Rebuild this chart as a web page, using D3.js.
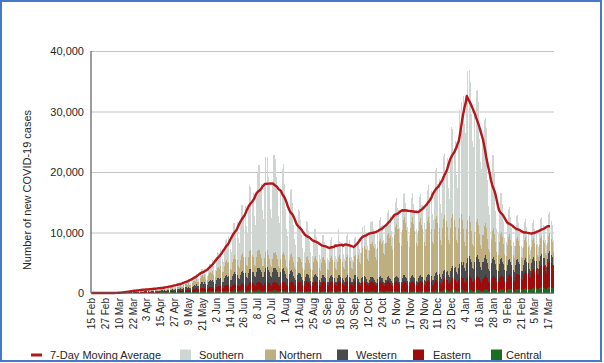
<!DOCTYPE html>
<html>
<head>
<meta charset="utf-8">
<script src="https://cdn.jsdelivr.net/npm/d3@7"></script>
<style>
  body { margin: 0; background: #fff; }
  svg { display: block; font-family: "Liberation Sans", Arial, sans-serif; }
</style>
</head>
<body>
<div id="vis"></div>
<script>
// Daily new cases by region, in hundreds of cases, one row per week (Sat..Fri), first day 15 Feb 2020
var central = [
  0,0,0,0,0,0,0, 0,0,0,0,0,0,0, 0,0,0,0,0,0,0,
  0,0,0,0,0.1,0.1,0.1, 0.1,0.1,0.2,0.2,0.3,0.3,0.2, 0.4,0.3,0.3,0.4,0.5,0.5,0.4,
  0.5,0.4,0.4,0.5,0.6,0.6,0.5, 0.6,0.5,0.4,0.6,0.7,0.8,0.6, 0.8,0.6,0.6,0.8,0.9,1,0.9,
  1,0.8,0.7,1,1.2,1.2,1.1, 1.2,1,0.9,1.2,1.4,1.5,1.2, 1.5,1.2,1.1,1.5,1.7,1.8,1.7,
  1.9,1.5,1.4,1.9,2.2,2.3,2.1, 2.5,2,1.9,2.5,2.9,3,2.7, 3,2.4,2.2,3,3.5,3.6,3.3,
  3,3,2,3,4,4,3, 4,3,3,3,4,4,4, 4,3,3,4,4,5,4,
  4,3,3,4,5,5,4, 4,3,3,4,5,5,4, 4,3,3,4,5,5,4,
  4,3,4,4,5,5,4, 4,3,3,4,5,5,4, 4,3,3,4,5,4,4,
  4,3,2,3,4,4,4, 3,3,3,4,4,4,4, 3,3,2,3,4,4,3,
  3,2,2,3,4,4,3, 3,3,2,3,3,4,3, 3,2,2,3,4,4,3,
  3,2,2,3,4,4,3, 3,3,2,3,3,4,3, 3,2,2,3,4,4,3,
  3,2,2,3,4,4,3, 3,3,2,3,3,4,3, 3,2,2,3,4,4,3,
  3,2,2,3,4,4,3, 3,3,2,3,3,4,3, 3,2,2,3,4,4,3,
  3,2,2,3,4,4,3, 3,3,2,3,3,4,3, 4,3,2,4,4,4,4,
  4,3,3,4,5,5,4, 5,4,3,4,5,6,5, 5,4,3,4,5,6,5,
  5,4,3,4,5,6,5, 5,4,3,4,5,6,5, 5,4,4,4,5,6,5,
  5,4,3,4,5,6,5, 5,4,3,4,5,6,5, 5,4,4,5,6,6,5,
  6,4,4,5,6,7,6, 6,5,4,6,7,7,7, 7,5,5,6,7,8,7,
  7,6,5,7,8,9,7, 8,6,6,8,9,10,9, 9,7,6,8,10,10,9,
  9,7
];
var eastern = [
  0,0,0,0,0,0,0, 0,0,0,0,0,0,0, 0,0,0,0,0,0,0,
  0,0,0,0.1,0.2,0.2,0.2, 0.2,0.2,0.2,0.3,0.4,0.4,0.4, 0.6,0.4,0.4,0.6,0.7,0.8,0.7,
  0.8,0.6,0.6,0.8,0.9,1,0.9, 1,0.8,0.7,1,1.2,1.2,1.1, 1.2,1,0.9,1.2,1.4,1.4,1.3,
  1.5,1.2,1.1,1.5,1.7,1.8,1.7, 2,1.6,1.5,2,2.3,2.4,2.2, 2.7,2.2,2,2.7,3.1,3.2,3,
  3.6,2.9,2.7,3.6,4.1,4.3,4, 5,4,4,5,6,6,5, 6,5,4,6,7,7,7,
  7,6,5,7,8,8,8, 8,6,6,8,9,10,9, 9,7,7,9,10,11,10,
  10,8,8,10,11,12,11, 11,9,8,11,13,13,12, 12,10,9,12,14,14,13,
  12,9,9,12,14,15,13, 12,10,9,12,14,14,13, 13,10,9,13,14,15,14,
  13,10,10,13,15,16,14, 13,11,10,13,15,15,14, 14,11,10,13,16,16,15,
  13,11,10,14,15,16,15, 14,11,10,13,16,16,15, 13,11,10,14,15,16,15,
  14,11,10,13,16,16,15, 13,11,10,14,15,16,15, 14,11,10,13,16,16,15,
  13,11,10,14,15,16,15, 14,11,10,13,16,16,15, 13,11,10,14,15,16,15,
  14,11,10,13,16,16,15, 13,11,10,14,15,16,15, 14,11,10,13,16,16,15,
  13,11,10,14,15,16,15, 14,11,10,13,16,16,15, 14,11,11,14,16,17,15,
  14,11,11,14,16,17,15, 15,12,11,15,17,18,17, 16,13,12,16,18,19,18,
  17,14,13,17,19,20,19, 19,15,14,19,22,23,21, 19,15,14,19,22,23,21,
  19,16,14,19,21,23,21, 19,15,14,19,22,23,21, 19,15,14,19,22,23,21,
  20,16,15,20,23,24,22, 21,17,16,21,24,25,23, 23,18,17,23,26,28,26,
  26,21,20,26,30,31,28, 31,25,23,31,36,37,34, 36,29,27,36,41,43,40,
  38,30
];
var western = [
  0,0,0,0,0,0,0, 0,0,0,0,0,0,0, 0,0,0,0,0,0,0,
  0,0,0,0.1,0.1,0.2,0.2, 0.3,0.3,0.3,0.4,0.5,0.5,0.5, 0.8,0.6,0.6,0.8,0.9,1,0.9,
  1.1,0.9,0.8,1.1,1.3,1.3,1.2, 1.3,1,1,1.3,1.5,1.6,1.4, 1.6,1.3,1.2,1.6,1.8,1.9,1.8,
  2,1.6,1.5,2,2.3,2.4,2.2, 2.7,2.2,2,2.7,3.1,3.2,3, 3.8,3,2.9,3.8,4.4,4.6,4.2,
  5,4,4,5,6,6,5, 7,6,6,8,9,9,8, 9,7,7,9,10,11,10,
  11,9,8,11,13,13,12, 13,10,10,13,15,16,14, 15,12,11,15,17,18,17,
  16,13,12,16,18,19,18, 18,14,14,18,21,22,19, 19,15,14,19,22,23,21,
  19,15,14,19,22,23,21, 19,15,14,19,22,23,21, 18,14,14,18,21,22,19,
  15,12,11,15,17,18,17, 12,10,9,12,14,14,13, 10,8,8,10,12,12,11,
  9,7,7,9,10,11,10, 9,7,6,9,10,10,9, 8,6,6,8,9,10,9,
  8,6,6,8,9,10,9, 8,7,6,8,9,9,9, 8,6,6,7,9,9,8,
  7,6,5,7,8,8,8, 6,5,5,6,7,7,6, 6,5,4,6,7,8,6,
  7,5,5,6,7,8,7, 7,6,5,7,8,8,8, 8,6,6,8,9,10,9,
  8,7,6,8,9,9,9, 8,6,6,8,9,10,9, 9,7,7,9,10,11,10,
  10,8,8,10,12,12,11, 12,10,9,12,14,14,13, 16,13,12,16,18,19,18,
  21,17,16,21,24,25,23, 27,22,20,27,31,32,30, 28,22,21,28,32,34,31,
  28,23,21,28,32,33,31, 26,21,20,26,30,31,28, 24,19,18,24,28,29,26,
  22,18,17,22,25,26,24, 20,16,15,20,23,24,22, 18,14,14,18,21,22,19,
  16,13,12,16,18,19,18, 14,11,11,14,16,17,15, 13,10,10,13,15,16,14,
  13,10
];
var northern = [
  0,0,0,0,0,0,0, 0,0,0,0,0,0,0, 0,0,0,0,0,0,0,
  0,0,0,0.1,0.1,0.2,0.2, 0.3,0.3,0.3,0.4,0.5,0.5,0.5, 0.9,0.7,0.7,0.9,1,1.1,1,
  1.2,1,0.9,1.2,1.4,1.4,1.3, 1.4,1.1,1.1,1.4,1.6,1.7,1.5, 1.8,1.4,1.4,1.8,2.1,2.2,2,
  2.2,1.8,1.7,2.2,2.5,2.6,2.4, 3,2.4,2.3,3,3.5,3.6,3.3, 4.5,3.6,3.4,4.5,5.2,5.4,5,
  6,5,5,6,7,7,7, 9,7,7,9,10,11,10, 11,9,8,11,13,13,12,
  15,12,11,15,17,18,17, 20,16,15,20,23,24,22, 23,18,17,23,26,28,25,
  25,20,19,25,29,30,27, 26,21,20,26,30,31,28, 24,19,18,24,28,29,26,
  23,18,17,23,26,28,25, 22,18,17,22,25,26,24, 22,17,16,22,25,27,25,
  23,18,17,23,26,28,25, 23,19,17,23,27,27,25, 24,19,18,24,28,29,26,
  25,20,19,25,29,30,27, 25,20,19,25,29,30,28, 26,21,20,26,30,31,28,
  27,22,20,27,31,32,30, 28,22,21,28,32,34,31, 28,23,21,28,32,33,31,
  40,33,31,42,48,50,46, 48,38,36,48,55,58,53, 52,42,39,52,60,62,57,
  60,48,45,60,69,72,66, 72,58,54,72,83,86,79, 80,64,60,80,92,96,88,
  80,66,58,82,90,97,87, 78,62,59,78,90,94,86, 78,63,58,79,89,93,86,
  78,62,59,78,90,94,85, 76,61,57,76,87,91,84, 72,58,54,72,83,86,79,
  66,53,50,66,76,79,73, 55,44,41,55,63,66,61, 50,40,38,50,58,60,55,
  45,36,34,45,52,54,50, 40,32,30,40,46,48,44, 36,29,27,36,41,43,40,
  33,26,25,33,38,40,36, 31,25,23,31,36,37,34, 29,23,22,29,33,35,32,
  27,22,20,27,31,32,30, 26,21,20,26,30,31,29, 25,20,19,25,29,30,27,
  25,20
];
var southern = [
  0,0,0,0,0,0,0, 0,0,0,0,0,0,0, 0,0,0,0,0.1,0.2,0.1,
  0.1,0.1,0.1,0.2,0.3,0.3,0.3, 0.5,0.4,0.4,0.7,0.9,1,0.8, 1.2,1,0.9,1.3,1.6,1.7,1.4,
  1.9,1.4,1.2,1.9,2.4,2.5,2, 2.2,1.7,1.4,2.3,2.8,2.9,2.3, 2.6,2,1.7,2.6,3.5,3.2,2.7,
  3.3,2.5,2.1,3.3,4.3,4.1,3.5, 4.1,3.1,2.7,4.1,5.4,5,4.3, 4.5,3.4,2.9,4.5,5.6,6.2,4.7,
  6,5,4,6,8,9,6, 8,6,5,8,11,10,8, 11,8,7,11,15,13,12,
  19,14,12,19,26,23,20, 28,21,18,28,36,35,29, 44,33,29,44,58,54,46,
  63,47,41,63,82,79,66, 84,63,55,84,110,104,88, 106,80,69,106,130,141,111,
  122,92,79,122,158,154,128, 124,93,81,124,162,154,130, 112,84,73,112,140,146,118,
  84,63,55,84,108,106,88, 61,46,40,61,79,76,64, 45,34,29,45,59,56,47,
  36,27,23,36,47,45,38, 29,22,19,29,38,36,30, 24,18,16,24,30,31,25,
  27,20,18,27,45,24,28, 28,21,18,28,35,36,29, 24,18,16,24,30,31,25,
  27,20,18,27,34,35,28, 28,21,18,28,37,34,29, 28,21,18,28,35,36,29,
  29,22,19,29,36,38,30, 33,25,21,33,41,43,35, 32,24,21,32,42,40,34,
  31,23,20,31,39,40,33, 31,23,20,31,40,39,33, 41,31,27,41,51,53,43,
  62,47,40,62,80,79,65, 80,60,52,80,104,100,84, 114,86,74,114,150,141,120,
  142,107,92,142,178,185,149, 220,194,187,220,246,242,231, 194,171,165,194,217,213,204,
  157,138,133,157,176,173,165, 96,72,62,96,125,120,101, 52,39,34,52,68,65,55,
  36,27,23,36,47,45,38, 29,22,19,29,38,36,30, 24,18,16,24,31,30,25,
  22,17,14,22,28,29,23, 24,18,16,24,31,30,25, 28,21,18,28,36,35,29,
  27,20
];

var tickLabels = ["15 Feb","27 Feb","10 Mar","22 Mar","3 Apr","15 Apr","27 Apr","9 May","21 May",
  "2 Jun","14 Jun","26 Jun","8 Jul","20 Jul","1 Aug","13 Aug","25 Aug","6 Sep","18 Sep","30 Sep",
  "12 Oct","24 Oct","5 Nov","17 Nov","29 Nov","11 Dec","23 Dec","4 Jan","16 Jan","28 Jan","9 Feb",
  "21 Feb","5 Mar","17 Mar"];
var yTicks = [0, 10000, 20000, 30000, 40000];

var seriesKeys = ["Central", "Eastern", "Western", "Northern", "Southern"];
var seriesData = {Central: central, Eastern: eastern, Western: western, Northern: northern, Southern: southern};
var fillColor = d3.scaleOrdinal()
  .domain(seriesKeys)
  .range(["#1a6e1f", "#9c0c0c", "#4b4b4b", "#bfae80", "#cfd5d1"]);
var lineColor = "#b5161c";

var width = 604, height = 363;
var plotLeft = 91, plotRight = 554, plotTop = 51, plotBottom = 293;

// build the daily table
var n = d3.min(seriesKeys, function(k){ return seriesData[k].length; });
var rows = d3.range(n).map(function(i){
  var r = {day: i};
  seriesKeys.forEach(function(k){ r[k] = seriesData[k][i] * 100; });
  r.total = d3.sum(seriesKeys, function(k){ return r[k]; });
  return r;
});

// centred 7-day moving average of the daily totals
var ma = [];
for (var i = 0; i <= n - 4; i++) {
  ma.push({day: i, value: d3.mean(rows.slice(Math.max(0, i - 3), i + 4), function(d){ return d.total; })});
}

var x = d3.scaleBand().domain(d3.range(n)).range([plotLeft, plotRight]).paddingInner(0.12).paddingOuter(0.05);
var y = d3.scaleLinear().domain([0, 40000]).range([plotBottom, plotTop]);

var svg = d3.select("#vis").append("svg")
  .attr("width", width).attr("height", height);

// gridlines + y labels
var yAxis = svg.append("g")
  .attr("transform", "translate(" + plotLeft + ",0)")
  .call(d3.axisLeft(y).tickValues(yTicks).tickFormat(d3.format(",")).tickSize(-(plotRight - plotLeft)).tickPadding(7));
yAxis.select(".domain").remove();
yAxis.selectAll(".tick line").attr("stroke", "#c4c4c4").attr("stroke-width", 1.2);
yAxis.selectAll(".tick text").attr("fill", "#262626").style("font-size", "11px");

// stacked bars
var stacked = d3.stack().keys(seriesKeys)(rows);
svg.append("g").selectAll("g")
  .data(stacked)
  .join("g")
    .attr("fill", function(d){ return fillColor(d.key); })
  .selectAll("rect")
  .data(function(d){ return d; })
  .join("rect")
    .attr("shape-rendering", "crispEdges")
    .attr("x", function(d){ return x(d.data.day); })
    .attr("width", x.bandwidth())
    .attr("y", function(d){ return y(d[1]); })
    .attr("height", function(d){ return Math.max(0, y(d[0]) - y(d[1])); });

// moving average line
svg.append("path")
  .datum(ma)
  .attr("fill", "none")
  .attr("stroke", lineColor)
  .attr("stroke-width", 2.4)
  .attr("stroke-linejoin", "round")
  .attr("d", d3.line()
    .x(function(d){ return x(d.day) + x.bandwidth() / 2; })
    .y(function(d){ return y(d.value); }));

// axis lines
svg.append("line").attr("x1", plotLeft).attr("x2", plotLeft).attr("y1", plotTop).attr("y2", plotBottom)
  .attr("stroke", "#595959").attr("stroke-width", 1.2);
svg.append("line").attr("x1", plotLeft).attr("x2", plotRight).attr("y1", plotBottom).attr("y2", plotBottom)
  .attr("stroke", "#595959").attr("stroke-width", 1.2);

// x labels, every 12th day
svg.append("g").selectAll("text")
  .data(tickLabels)
  .join("text")
    .attr("transform", function(d, i){
      return "translate(" + (x(i * 12) + x.bandwidth() / 2) + "," + (plotBottom + 5) + ") rotate(-90)";
    })
    .attr("text-anchor", "end")
    .attr("dy", "0.35em")
    .attr("fill", "#262626")
    .style("font-size", "10px")
    .text(function(d){ return d; });

// y title
svg.append("text")
  .attr("transform", "translate(31,190) rotate(-90)")
  .attr("text-anchor", "middle")
  .attr("fill", "#262626")
  .style("font-size", "11px")
  .text("Number of new COVID-19 cases");

// legend
var legendItems = [
  {label: "7-Day Moving Average", line: true, sx: 31, tx: 50},
  {label: "Southern", sx: 180, tx: 199},
  {label: "Northern", sx: 265, tx: 279},
  {label: "Western", sx: 337, tx: 356},
  {label: "Eastern", sx: 413, tx: 433},
  {label: "Central", sx: 491, tx: 506}
];
var legend = svg.append("g");
legendItems.forEach(function(it){
  if (it.line) {
    legend.append("line").attr("x1", it.sx).attr("x2", it.sx + 11).attr("y1", 355).attr("y2", 355)
      .attr("stroke", lineColor).attr("stroke-width", 3);
  } else {
    legend.append("rect").attr("x", it.sx).attr("y", 349.5).attr("width", 11).attr("height", 11)
      .attr("fill", fillColor(it.label));
  }
  legend.append("text").attr("x", it.tx).attr("y", 355).attr("dy", "0.35em")
    .attr("fill", "#262626").style("font-size", "11px").text(it.label);
});

// frame
svg.append("rect").attr("x", 1).attr("y", 1).attr("width", 600).attr("height", 360)
  .attr("fill", "none").attr("stroke", "#4677c8").attr("stroke-width", 2);
</script>
</body>
</html>
